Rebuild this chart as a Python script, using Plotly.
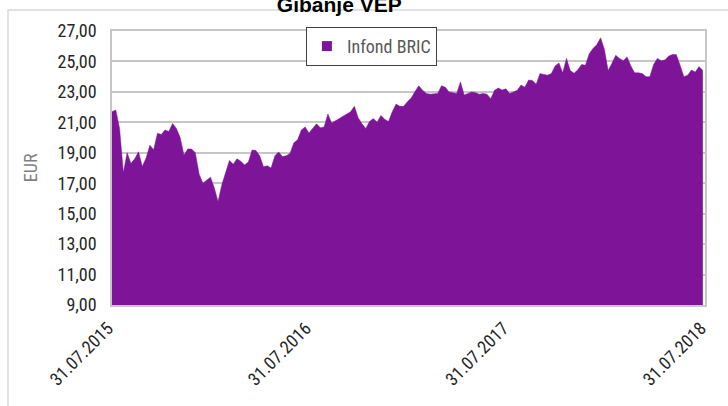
import pandas as pd
import plotly.graph_objects as go

# ---- data (weekly readings of the fund's unit value, EUR) ----
start_date = "2015-07-31"
end_date = "2018-07-31"
series_name = "Infond BRIC"
values = [
    21.70, 21.81, 20.60, 17.70, 19.00, 18.30, 18.60, 19.07, 18.10, 18.65,
    19.50, 19.20, 20.28, 20.20, 20.50, 20.40, 20.93, 20.60, 20.00, 18.85,
    19.25, 19.25, 19.00, 17.60, 17.00, 17.20, 17.40, 16.70, 15.80, 16.90,
    17.70, 18.50, 18.25, 18.60, 18.45, 18.20, 18.40, 19.18, 19.15, 18.80,
    18.08, 18.15, 18.00, 18.80, 19.05, 18.75, 18.80, 18.96, 19.65, 19.85,
    20.50, 20.70, 20.30, 20.60, 20.90, 20.65, 20.70, 21.55, 20.95, 21.10,
    21.25, 21.40, 21.55, 21.70, 22.05, 21.30, 20.90, 20.60, 21.05, 21.25,
    21.00, 21.45, 21.20, 21.05, 21.70, 22.20, 22.05, 22.05, 22.35, 22.60,
    23.02, 23.40, 23.10, 22.90, 22.85, 22.90, 22.90, 23.40, 23.30, 23.00,
    22.95, 22.90, 23.65, 22.80, 22.90, 23.00, 22.95, 22.85, 22.90, 22.85,
    22.55, 23.10, 23.25, 23.12, 23.20, 22.90, 23.00, 23.10, 23.45, 23.30,
    23.78, 23.75, 23.50, 24.20, 24.15, 24.10, 24.20, 24.70, 24.90, 24.25,
    25.20, 24.40, 24.22, 24.45, 24.80, 24.75, 25.50, 25.85, 26.10, 26.55,
    25.80, 24.40, 24.88, 25.40, 25.20, 25.05, 25.30, 24.70, 24.25, 24.25,
    24.20, 24.00, 24.00, 24.80, 25.20, 25.05, 25.10, 25.35, 25.45, 25.45,
    24.75, 24.00, 24.10, 24.44, 24.30, 24.66, 24.40,
]
dates = pd.date_range(start=start_date, periods=len(values), freq="7D")

tick_dates = ["2015-07-31", "2016-07-31", "2017-07-31", "2018-07-31"]
tick_labels = ["31.07.2015", "31.07.2016", "31.07.2017", "31.07.2018"]
y_min, y_max, y_step = 9, 27, 2

PURPLE = "#7E1598"
GRID = "#C6C6C6"
NARROW = "Liberation Sans Narrow, Arial Narrow, Roboto Condensed, sans-serif"

fig = go.Figure()
fig.add_trace(go.Scatter(
    x=dates, y=values, mode="lines", fill="tozeroy",
    line=dict(color=PURPLE, width=0.5), fillcolor=PURPLE,
    showlegend=False, name=series_name,
))
# legend entry (square swatch)
fig.add_trace(go.Scatter(
    x=[None], y=[None], mode="markers", name=series_name,
    marker=dict(symbol="square", size=10, color=PURPLE),
))

fig.update_layout(
    width=728, height=406,
    margin=dict(l=112, r=23, t=31, b=101, autoexpand=False),
    paper_bgcolor="white", plot_bgcolor="white",
    separators=",.",
    title=dict(
        text="<b>Gibanje VEP</b>", x=0.466, xanchor="center",
        y=0.988, yanchor="middle", yref="container",
        font=dict(family="Liberation Sans, Arial, sans-serif", size=21, color="black"),
    ),
    legend=dict(
        x=0.327, xanchor="left", y=1.015, yanchor="top",
        bgcolor="white", bordercolor="#404040", borderwidth=1,
        font=dict(family=NARROW, size=18, color="#595959"),
        itemwidth=30,
    ),
    xaxis=dict(
        type="date", range=[start_date, end_date],
        tickvals=tick_dates, ticktext=tick_labels, tickangle=-45,
        tickfont=dict(family=NARROW, size=18, color="#262626"),
        showgrid=False, showline=True, linecolor=GRID, linewidth=1.5,
        mirror=True, ticks="", automargin=False, zeroline=False,
        ticklabelstandoff=4, ticklabelshift=-4,
    ),
    yaxis=dict(
        range=[y_min, y_max], dtick=y_step, tick0=y_min, tickformat=".2f",
        tickfont=dict(family=NARROW, size=18, color="#262626"),
        showgrid=True, gridcolor=GRID, gridwidth=1.5,
        showline=True, linecolor=GRID, linewidth=1.5, mirror=True,
        ticks="", ticklabelstandoff=10, automargin=False, zeroline=False,
    ),
    annotations=[dict(
        text="EUR", xref="paper", yref="paper", x=-0.138, y=0.5,
        xanchor="center", yanchor="middle",
        textangle=-90, showarrow=False,
        font=dict(family=NARROW, size=18, color="#7F7F7F"),
    )],
    shapes=[dict(
        type="rect", xref="paper", yref="paper",
        x0=-0.1754, y0=-0.42, x1=1.06, y1=1.0766,
        line=dict(color="#D9D9D9", width=1.5), fillcolor="rgba(0,0,0,0)",
    )],
)

fig.write_html(
    "out.html",
    config={"displayModeBar": False},
    post_script="document.body.style.margin='0';",
)
